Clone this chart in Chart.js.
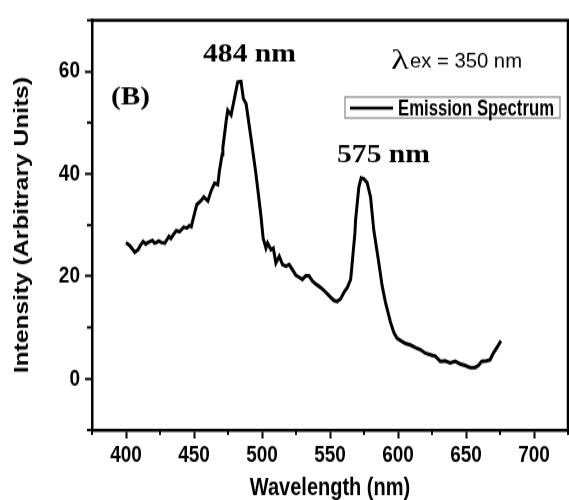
<!DOCTYPE html>
<html>
<head>
<meta charset="utf-8">
<script src="https://cdn.jsdelivr.net/npm/chart.js@4.4.1/dist/chart.umd.min.js"></script>
<style>
html{margin:0;padding:0;background:#fff;overflow:hidden;}
body{margin:0;padding:0;background:#fff;width:569px;height:500px;}
#wrap{width:569px;height:407px;transform-origin:0 0;}
canvas{display:block;}
</style>
</head>
<body>
<div id="wrap"><canvas id="c" width="569" height="407" style="width:569px;height:407px"></canvas></div>
<script>
// ---- data ----
const wavelengths = [400,402.8,406.5,408.9,410.5,412.6,414.5,416.2,419.4,421,422.4,424,426,428.5,431.6,433,435,437,439.4,442.4,444.8,446.5,448,450.4,452.1,455.3,457.2,460.2,462.6,465.1,467.5,468.7,470.7,471.2,473.6,474.8,477.3,479.7,482.1,484.6,486.3,488.3,491.9,495.6,499.3,500.8,502.9,504.1,506.6,508.3,510.2,512.7,515.1,517.6,520,522.4,524.9,527.3,529.7,532.2,534.6,537,539.5,543.2,546.9,550.5,552.9,555.3,557.8,560.3,562.7,565.2,566.3,568.3,568.8,571.2,572.9,574.9,577.3,579.8,582.2,585.9,588.3,590.8,594.4,597,599.3,602.9,605.4,609.1,612.8,616.4,620.1,623.7,627.4,631.1,634.7,638.4,642,645.7,649.4,653,656.7,659.1,661.5,665.2,667.7,670.1,673.2,675.7];
const intensity = [26.6,26.0,24.7,25.2,26.0,26.8,26.3,26.6,27.0,26.5,26.6,26.9,26.6,26.5,27.8,27.4,28.2,28.9,28.7,29.6,29.4,29.9,29.7,32.3,34.0,34.8,35.5,34.7,36.7,38.2,37.9,40.6,43.8,45.1,50.2,52.4,51.5,54.7,57.9,58.0,54.7,53.7,47.0,39.9,31.6,27.5,25.5,26.5,25.2,25.5,22.6,23.9,22.3,22.0,22.3,21.3,20.2,19.8,19.4,20.1,20.1,19.1,18.5,17.8,16.9,15.9,15.3,15.1,15.6,16.9,17.8,19.4,22.6,28.4,31.0,37.4,39.2,39.0,38.3,35.5,29.0,22.6,18.2,14.9,11.1,9.0,7.9,7.3,6.9,6.6,6.1,5.7,5.0,4.7,4.4,3.4,3.5,3.1,3.4,2.9,2.6,2.2,2.2,2.6,3.4,3.5,3.7,5.0,6.3,7.4];
const xTickValues = [400,450,500,550,600,650,700];
const xMinorTicks = [375,425,475,525,575,625,675,725];
const yTickValues = [0,20,40,60];
const yMinorTicks = [-10,10,30,50,70];
const seriesLabel = 'Emission Spectrum';
const xTitle = 'Wavelength (nm)';
const yTitle = 'Intensity (Arbitrary Units)';
const peakLabels = ['484 nm', '575 nm'];
const panelLabel = '(B)';
const excitationSymbol = 'λ';
const excitationText = 'ex = 350 nm';

// vertical stretch of the reference picture
const S = 500 / 407;
document.getElementById('wrap').style.transform = 'scale(1,' + S + ')';

function fitText(ctx, text, font, left, baseline, width) {
  ctx.save();
  ctx.font = font;
  ctx.textAlign = 'left';
  ctx.textBaseline = 'alphabetic';
  const m = ctx.measureText(text).width;
  ctx.translate(left, baseline);
  ctx.scale(width / m, 1);
  ctx.fillStyle = '#000';
  ctx.fillText(text, 0, 0);
  ctx.restore();
}

const decor = {
  id: 'decor',
  afterDraw(chart) {
    const ctx = chart.ctx;
    const a = chart.chartArea;
    const xs = chart.scales.x, ys = chart.scales.y;
    ctx.save();
    // frame top & right
    ctx.strokeStyle = '#000';
    ctx.lineWidth = 2.5;
    ctx.beginPath();
    ctx.moveTo(a.left - 1.25, a.top);
    ctx.lineTo(a.right, a.top);
    ctx.lineTo(a.right, a.bottom);
    ctx.stroke();
    // minor ticks
    ctx.lineWidth = 2;
    ctx.beginPath();
    xMinorTicks.forEach(v => {
      const px = xs.getPixelForValue(v);
      ctx.moveTo(px, a.bottom);
      ctx.lineTo(px, a.bottom + 4);
    });
    yMinorTicks.forEach(v => {
      const py = ys.getPixelForValue(v);
      ctx.moveTo(a.left, py);
      ctx.lineTo(a.left - 5, py);
    });
    ctx.stroke();
    ctx.restore();

    // annotations
    fitText(ctx, peakLabels[0], 'bold 21px "Liberation Serif"', 203, 62 / S, 93);
    fitText(ctx, peakLabels[1], 'bold 21px "Liberation Serif"', 337, 162 / S, 93);
    fitText(ctx, panelLabel, 'bold 20px "Liberation Serif"', 111, 104 / S, 39);
    fitText(ctx, excitationSymbol, '24px "Liberation Serif"', 391, 69 / S, 18);
    fitText(ctx, excitationText, '16px "Liberation Sans"', 410, 68 / S, 112);

    // legend box
    const ds = chart.data.datasets[0];
    ctx.save();
    ctx.strokeStyle = '#a0a0a0';
    ctx.lineWidth = 1.5;
    ctx.strokeRect(345, 97 / S, 215, 21 / S);
    ctx.strokeStyle = ds.borderColor;
    ctx.lineWidth = 2.5;
    ctx.beginPath();
    ctx.moveTo(350, 108 / S);
    ctx.lineTo(393, 108 / S);
    ctx.stroke();
    ctx.restore();
    fitText(ctx, ds.label, 'bold 18px "Liberation Sans"', 398, 115.5 / S, 156);
  }
};

new Chart(document.getElementById('c'), {
  type: 'line',
  data: {
    datasets: [{
      label: seriesLabel,
      data: wavelengths.map((w, i) => ({x: w, y: intensity[i]})),
      borderColor: '#000',
      borderWidth: 3,
      pointRadius: 0,
      tension: 0,
      fill: false
    }]
  },
  options: {
    responsive: false,
    animation: false,
    layout: {autoPadding: false, padding: {top: 14 / S, right: 1, left: 0, bottom: 0}},
    plugins: {legend: {display: false}, tooltip: {enabled: false}},
    scales: {
      x: {
        type: 'linear',
        min: 375, max: 725,
        afterBuildTicks: s => { s.ticks = xTickValues.map(v => ({value: v})); },
        afterFit: s => { s.height = 407 - 430 / S; },
        grid: {display: true, drawOnChartArea: false, drawTicks: true, tickLength: 7, tickWidth: 2, tickColor: '#000'},
        border: {display: true, color: '#000', width: 2.5},
        ticks: {color: '#000', padding: 2, maxRotation: 0, autoSkip: false, font: {family: '"Liberation Sans", Arial', size: 19, weight: 'bold'}},
        title: {display: true, text: xTitle, color: '#000', padding: {top: 0, bottom: 0}, font: {family: '"Liberation Sans", Arial', size: 20, weight: 'bold', lineHeight: 1}}
      },
      y: {
        type: 'linear',
        min: -10, max: 70,
        afterBuildTicks: s => { s.ticks = yTickValues.map(v => ({value: v})); },
        afterFit: s => { s.width = 92; },
        grid: {display: true, drawOnChartArea: false, drawTicks: true, tickLength: 7, tickWidth: 2, tickColor: '#000'},
        border: {display: true, color: '#000', width: 2.5},
        ticks: {color: '#000', padding: 5, autoSkip: false, font: {family: '"Liberation Sans", Arial', size: 19, weight: 'bold'}},
        title: {display: true, text: yTitle, color: '#000', padding: {top: 10, bottom: 0}, font: {family: '"Liberation Sans", Arial', size: 20, weight: 'bold', lineHeight: 1.2}}
      }
    }
  },
  plugins: [decor]
});
</script>
</body>
</html>
